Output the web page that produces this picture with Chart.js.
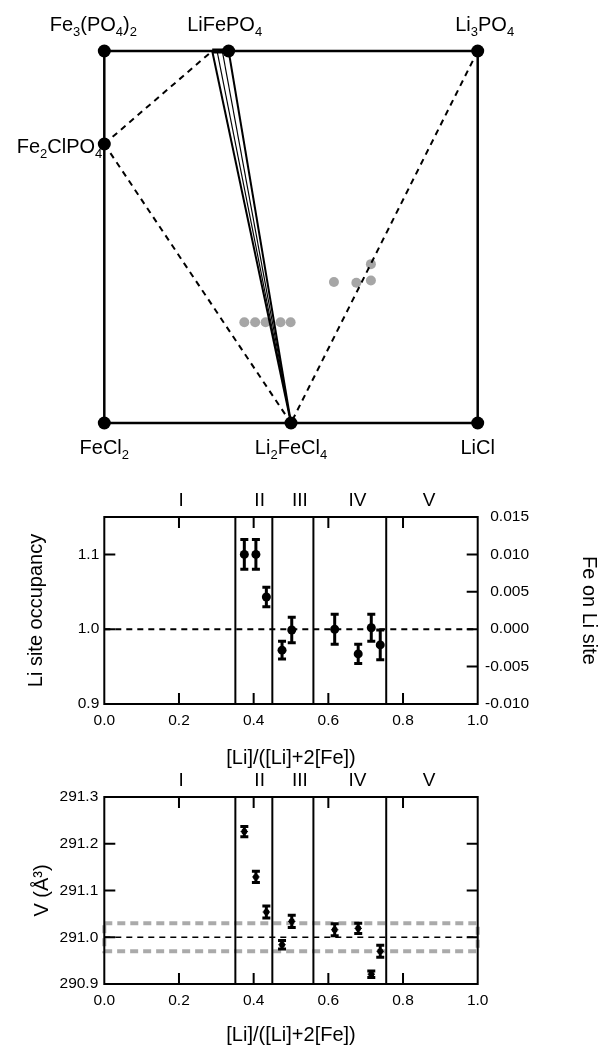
<!DOCTYPE html>
<html>
<head>
<meta charset="utf-8">
<script src="https://cdn.jsdelivr.net/npm/chart.js@4.4.1/dist/chart.umd.min.js"></script>
<style>
  html, body { margin: 0; padding: 0; background: #fff; }
  #wrap { position: relative; width: 601px; height: 1047px; }
  canvas { position: absolute; left: 0; }
</style>
</head>
<body>
<div id="wrap">
  <canvas id="phaseChart" width="601" height="490" style="top:0px"></canvas>
  <canvas id="occChart" width="601" height="282" style="top:490px"></canvas>
  <canvas id="volChart" width="601" height="275" style="top:772px"></canvas>
</div>
<script>
// === top panel: composition square ===
const phaseNames = ['Fe3(PO4)2', 'LiFePO4', 'Li3PO4', 'Fe2ClPO4', 'FeCl2', 'Li2FeCl4', 'LiCl'];
const phaseX = [0, 0.333, 1, 0, 0, 0.5, 1];
const phaseY = [0, 0, 0, 0.25, 1, 1, 1];

// dashed tie lines (start / end in composition coords)
const tieX0 = [0, 0, 1];
const tieY0 = [0.25, 0.25, 0];
const tieX1 = [0.289, 0.5, 0.5];
const tieY1 = [0, 1, 1];

// solid fan from LiFePO4 side down to Li2FeCl4
const fanTopX = [0.289, 0.302, 0.316, 0.333];

// grey sample compositions
const grayX = [0.375, 0.404, 0.432, 0.472, 0.499, 0.615, 0.675, 0.714, 0.714];
const grayY = [0.729, 0.729, 0.729, 0.729, 0.729, 0.621, 0.623, 0.617, 0.573];

// === lower panels ===
const regionNames = ['I', 'II', 'III', 'IV', 'V'];
const regionLabelX = [0.206, 0.416, 0.524, 0.678, 0.870];
const regionBounds = [0.351, 0.450, 0.560, 0.755];

const sampleX = [0.375, 0.406, 0.434, 0.476, 0.502, 0.617, 0.680, 0.715, 0.739];
const occupancy = [1.100, 1.100, 1.043, 0.972, 0.999, 1.000, 0.967, 1.002, 0.979];
const occupancyErr = [0.020, 0.020, 0.013, 0.012, 0.017, 0.020, 0.013, 0.018, 0.020];

const volume = [291.226, 291.129, 291.054, 290.984, 291.034, 291.016, 291.019, 290.921, 290.970];
const volumeErr = [0.011, 0.012, 0.013, 0.009, 0.013, 0.013, 0.011, 0.007, 0.013];
const volumeXErr = [0.01, 0.01, 0.01, 0.01, 0.01, 0.01, 0.01, 0.01, 0.01];
const volumeBand = [290.97, 291.03];

const xTicks = [0, 0.2, 0.4, 0.6, 0.8, 1.0];
const occTicks = [0.9, 1.0, 1.1];
const feTicks = [-0.010, -0.005, 0, 0.005, 0.010, 0.015];
const volTicks = [290.9, 291.0, 291.1, 291.2, 291.3];

const FONT = "'Liberation Sans', Arial, sans-serif";
Chart.defaults.font.family = FONT;
Chart.defaults.color = '#000';
Chart.defaults.animation = false;
Chart.defaults.plugins.legend.display = false;
Chart.defaults.plugins.tooltip.enabled = false;

const LEFT_W = 104.3;     // left axis box
const RIGHT_W = 123.3;    // right side of the plot box
const GRAY = '#a6a6a6';

const pts = (xs, ys) => xs.map((x, i) => ({ x: x, y: ys[i] }));
const lineDs = (data, extra) => Object.assign({
    data: data, showLine: true, pointRadius: 0, borderColor: '#000',
    borderWidth: 2, backgroundColor: '#000', clip: false
}, extra || {});

// formula with digit subscripts
function drawFormula(ctx, text, x, y, align) {
    const parts = text.split(/(\d+)/).filter(s => s);
    const big = '20px ' + FONT, small = '13px ' + FONT;
    let w = 0;
    parts.forEach(p => { ctx.font = /\d/.test(p) ? small : big; w += ctx.measureText(p).width; });
    let cx = align === 'right' ? x - w : (align === 'center' ? x - w / 2 : x);
    ctx.textAlign = 'left';
    ctx.textBaseline = 'alphabetic';
    parts.forEach(p => {
        const sub = /\d/.test(p);
        ctx.font = sub ? small : big;
        ctx.fillText(p, cx, sub ? y + 5 : y);
        cx += ctx.measureText(p).width;
    });
}

// small nudges so the labels sit like the original
const labelNudge = { 'Fe3(PO4)2': -11, 'LiFePO4': -4, 'Li3PO4': 7 };

const phaseLabels = {
    id: 'phaseLabels',
    afterDraw(chart) {
        const ctx = chart.ctx;
        const xs = chart.scales.x, ys = chart.scales.y;
        ctx.save();
        ctx.fillStyle = '#000';
        phaseNames.forEach((name, i) => {
            const px = xs.getPixelForValue(phaseX[i]) + (labelNudge[name] || 0);
            const py = ys.getPixelForValue(phaseY[i]);
            if (phaseY[i] === 0) drawFormula(ctx, name, px, py - 20, 'center');
            else if (phaseY[i] === 1) drawFormula(ctx, name, px, py + 31, 'center');
            else drawFormula(ctx, name, px - 2, py + 9, 'right');
        });
        ctx.restore();
    }
};

const phaseDatasets = [
    { data: pts(phaseX, phaseY), pointRadius: 6.5, backgroundColor: '#000', borderWidth: 0, clip: false }
];
fanTopX.forEach((fx, i) => {
    const outer = i === 0 || i === fanTopX.length - 1;
    phaseDatasets.push(lineDs([{ x: fx, y: 0 }, { x: 0.5, y: 1 }], { borderWidth: outer ? 2 : 1.2 }));
});
phaseDatasets.push(lineDs([{ x: fanTopX[0], y: 0 }, { x: fanTopX[fanTopX.length - 1], y: 0 }], { borderWidth: 5 }));
phaseDatasets.push(lineDs(pts([0, 1, 1, 0, 0], [0, 0, 1, 1, 0]), { borderWidth: 2.5 }));
tieX0.forEach((x0, i) => {
    phaseDatasets.push(lineDs([{ x: x0, y: tieY0[i] }, { x: tieX1[i], y: tieY1[i] }], { borderDash: [6, 5] }));
});
phaseDatasets.push({ data: pts(grayX, grayY), pointRadius: 5, backgroundColor: GRAY, borderWidth: 0, clip: false });

new Chart(document.getElementById('phaseChart'), {
    type: 'scatter',
    data: { datasets: phaseDatasets },
    options: {
        responsive: false,
        layout: { padding: { left: LEFT_W, right: RIGHT_W, top: 51, bottom: 67 } },
        scales: {
            x: { type: 'linear', min: 0, max: 1, display: false },
            y: { type: 'linear', min: 0, max: 1, reverse: true, display: false }
        }
    },
    plugins: [phaseLabels]
});

// frame, inner ticks, region numerals
function makeFrame(cfg) {
    return {
        id: 'frame',
        afterDraw(chart) {
            const { ctx, chartArea: a } = chart;
            const L = 11;
            ctx.save();
            ctx.strokeStyle = '#000';
            ctx.lineWidth = 2;
            ctx.strokeRect(a.left, a.top, a.right - a.left, a.bottom - a.top);
            ctx.beginPath();
            cfg.xTicks.forEach(v => {
                const px = chart.scales.x.getPixelForValue(v);
                ctx.moveTo(px, a.bottom); ctx.lineTo(px, a.bottom - L);
                ctx.moveTo(px, a.top); ctx.lineTo(px, a.top + L);
            });
            cfg.leftTicks.forEach(v => {
                const py = chart.scales.y.getPixelForValue(v);
                ctx.moveTo(a.left, py); ctx.lineTo(a.left + L, py);
            });
            cfg.rightTicks.forEach(v => {
                const py = chart.scales[cfg.rightScale].getPixelForValue(v);
                ctx.moveTo(a.right, py); ctx.lineTo(a.right - L, py);
            });
            ctx.stroke();
            ctx.font = '19px ' + FONT;
            ctx.fillStyle = '#000';
            ctx.textAlign = 'center';
            ctx.textBaseline = 'middle';
            regionNames.forEach((n, i) => {
                ctx.fillText(n, chart.scales.x.getPixelForValue(regionLabelX[i]), a.top - 16);
            });
            ctx.restore();
        }
    };
}

const errorBars = {
    id: 'errorBars',
    afterDatasetsDraw(chart) {
        const ctx = chart.ctx;
        chart.data.datasets.forEach(ds => {
            if (!ds.errY) return;
            const xs = chart.scales.x, ys = chart.scales.y;
            ctx.save();
            ctx.strokeStyle = '#000';
            ds.data.forEach((p, j) => {
                const px = xs.getPixelForValue(p.x);
                const top = ys.getPixelForValue(p.y + ds.errY[j]);
                const bot = ys.getPixelForValue(p.y - ds.errY[j]);
                ctx.lineWidth = 3;
                ctx.beginPath();
                ctx.moveTo(px, top); ctx.lineTo(px, bot);
                ctx.moveTo(px - 4, top); ctx.lineTo(px + 4, top);
                ctx.moveTo(px - 4, bot); ctx.lineTo(px + 4, bot);
                ctx.stroke();
                if (ds.errX) {
                    const py = ys.getPixelForValue(p.y);
                    ctx.lineWidth = 1;
                    ctx.beginPath();
                    ctx.moveTo(xs.getPixelForValue(p.x - ds.errX[j]), py);
                    ctx.lineTo(xs.getPixelForValue(p.x + ds.errX[j]), py);
                    ctx.stroke();
                }
            });
            ctx.restore();
        });
    }
};

const fixedTicks = arr => axis => { axis.ticks = arr.map(v => ({ value: v })); };
const tickFont = { size: 15.5 };
const titleFont = { size: 20 };

function boundaryDatasets(yMin, yMax) {
    return regionBounds.map(b => lineDs([{ x: b, y: yMin }, { x: b, y: yMax }], { borderWidth: 2 }));
}

function xScale(height, titlePad) {
    return {
        type: 'linear', min: 0, max: 1,
        afterBuildTicks: fixedTicks(xTicks),
        afterFit: s => { s.height = height; },
        ticks: { callback: v => v.toFixed(1), padding: 7, font: tickFont, maxRotation: 0 },
        grid: { display: false, drawTicks: false },
        border: { display: false },
        title: { display: true, text: '[Li]/([Li]+2[Fe])', font: titleFont, padding: { bottom: titlePad } }
    };
}

// === middle: Li site occupancy ===
const FE_LABEL_RIGHT = 529;   // right edge of the Fe-on-Li tick labels
new Chart(document.getElementById('occChart'), {
    type: 'scatter',
    data: {
        datasets: [
            { data: pts(sampleX, occupancy), errY: occupancyErr, pointRadius: 4.5, backgroundColor: '#000', borderWidth: 0 },
            lineDs([{ x: 0, y: 1 }, { x: 1, y: 1 }], { borderDash: [6, 5] }),
            ...boundaryDatasets(0.9, 1.15)
        ]
    },
    options: {
        responsive: false,
        layout: { padding: { top: 27, right: 601 - FE_LABEL_RIGHT } },
        scales: {
            x: xScale(68, 2),
            y: {
                type: 'linear', min: 0.9, max: 1.15,
                afterBuildTicks: fixedTicks(occTicks),
                afterFit: s => { s.width = LEFT_W; },
                ticks: { callback: v => v.toFixed(1), padding: 5, font: tickFont },
                grid: { display: false, drawTicks: false },
                border: { display: false },
                title: { display: true, text: 'Li site occupancy', font: titleFont, padding: { top: 24 } }
            },
            y2: {
                type: 'linear', position: 'right', min: -0.010, max: 0.015,
                afterBuildTicks: fixedTicks(feTicks),
                afterFit: s => { s.width = RIGHT_W - (601 - FE_LABEL_RIGHT); },
                ticks: { callback: v => v.toFixed(3), padding: 7, font: tickFont, crossAlign: 'far' },
                grid: { display: false, drawTicks: false },
                border: { display: false },
                title: { display: true, text: 'Fe on Li site', font: titleFont, padding: { top: -(601 - FE_LABEL_RIGHT) } }
            }
        }
    },
    plugins: [errorBars, makeFrame({ xTicks: [0.2, 0.4, 0.6, 0.8], leftTicks: [1.0, 1.1], rightTicks: [-0.005, 0, 0.005, 0.010], rightScale: 'y2' })]
});

// === bottom: cell volume ===
new Chart(document.getElementById('volChart'), {
    type: 'scatter',
    data: {
        datasets: [
            { data: pts(sampleX, volume), errY: volumeErr, errX: volumeXErr, pointRadius: 3, backgroundColor: '#000', borderWidth: 0 },
            lineDs([{ x: 0, y: 291.0 }, { x: 1, y: 291.0 }], { borderDash: [6, 5], borderWidth: 1.5 }),
            ...boundaryDatasets(290.9, 291.3),
            lineDs(pts([0, 1, 1, 0, 0], [volumeBand[1], volumeBand[1], volumeBand[0], volumeBand[0], volumeBand[1]]),
                { borderColor: '#aaaaaa', borderWidth: 4, borderDash: [8, 5] })
        ]
    },
    options: {
        responsive: false,
        layout: { padding: { top: 25, right: RIGHT_W } },
        scales: {
            x: xScale(63, 0),
            y: {
                type: 'linear', min: 290.9, max: 291.3,
                afterBuildTicks: fixedTicks(volTicks),
                afterFit: s => { s.width = LEFT_W; },
                ticks: { callback: v => v.toFixed(1), padding: 6, font: tickFont },
                grid: { display: false, drawTicks: false },
                border: { display: false },
                title: { display: true, text: 'V (Å³)', font: titleFont, padding: { top: 30 } }
            }
        }
    },
    plugins: [errorBars, makeFrame({ xTicks: [0.2, 0.4, 0.6, 0.8], leftTicks: [291.0, 291.1, 291.2], rightTicks: [291.0, 291.1, 291.2], rightScale: 'y' })]
});
</script>
</body>
</html>
